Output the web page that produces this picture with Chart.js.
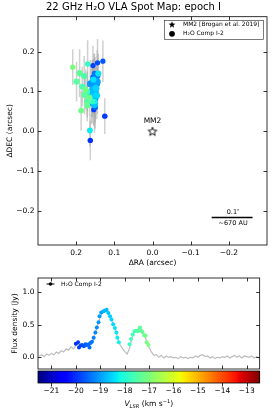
<!DOCTYPE html>
<html><head><meta charset="utf-8">
<script src="https://cdn.jsdelivr.net/npm/chart.js@4.4.0/dist/chart.umd.min.js"></script>
<style>
html,body{margin:0;padding:0;background:#fff;}
#wrap{position:relative;width:273px;height:413px;overflow:hidden;}
.box{position:absolute;left:0;width:273px;}
</style></head><body>
<div id="wrap">
<div class="box" style="top:0;height:270px"><canvas id="c1" width="273" height="270"></canvas></div>
<div class="box" style="top:270px;height:143px"><canvas id="c2" width="273" height="143"></canvas></div>
</div>
<script>
// ---------- DATA ----------
// maser spots: velocity (km/s), peak flux (Jy), RA/DEC offsets (arcsec), DEC uncertainty (arcsec)
const spotVel  = [-20.00,-19.91,-19.87,-19.80,-19.74,-19.67,-19.60,-19.54,-19.47,-19.40,-19.44,-19.34,
                  -19.27,-19.20,-19.14,-19.07,-19.03,-18.96,-18.87,-18.80,-18.74,-18.67,-18.60,-18.54,-18.47,-18.40,-18.34,-18.30,-18.24,
                  -17.80,-17.74,-17.67,-17.60,-17.54,-17.47,-17.40,-17.37,-17.33,-17.27,-17.20,-17.14,-17.10,-17.03];
const spotFlux = [0.21,0.23,0.15,0.18,0.19,0.17,0.20,0.19,0.20,0.22,0.15,0.24,
                  0.30,0.38,0.46,0.54,0.63,0.69,0.71,0.72,0.73,0.68,0.63,0.58,0.51,0.45,0.38,0.30,0.23,
                  0.20,0.28,0.35,0.40,0.41,0.40,0.43,0.46,0.41,0.39,0.34,0.33,0.23,0.19];
const spotRA   = [0.163,0.125,0.154,0.156,0.144,0.130,0.156,0.150,0.148,0.152,0.158,0.145,
                  0.144,0.157,0.150,0.163,0.154,0.145,0.158,0.150,0.153,0.152,0.160,0.148,0.146,0.155,0.142,0.164,0.151,
                  0.170,0.158,0.171,0.184,0.179,0.171,0.199,0.178,0.191,0.171,0.165,0.187,0.175,0.209];
const spotDEC  = [-0.023,0.038,0.054,0.165,0.172,0.176,0.136,0.060,0.128,0.145,0.070,0.118,
                  0.139,0.125,0.082,0.119,0.112,0.124,0.100,0.096,0.105,0.067,0.088,0.108,0.090,0.130,0.145,0.002,0.075,
                  0.169,0.075,0.100,0.112,0.139,0.075,0.125,0.092,0.146,0.065,0.085,0.052,0.105,0.161];
const spotDecErr=[0.050,0.045,0.040,0.050,0.060,0.052,0.040,0.030,0.040,0.050,0.035,0.040,
                  0.050,0.050,0.060,0.060,0.070,0.080,0.080,0.090,0.090,0.070,0.070,0.060,0.060,0.050,0.050,0.040,0.040,
                  0.060,0.040,0.050,0.050,0.050,0.040,0.050,0.050,0.060,0.040,0.045,0.050,0.050,0.045];
// reference source
const mm2RA = [0.0], mm2DEC = [0.0];
// scale bar (arcsec)
const scaleBarRA = [-0.155, -0.262], scaleBarDEC = [-0.217, -0.217];
// spectrum
const specVel = [-21.5,-21.4,-21.3,-21.2,-21.1,-21.0,-20.9,-20.8,-20.7,-20.6,-20.5,-20.4,-20.3,-20.2,-20.1,-20.0,
 -19.9,-19.8,-19.7,-19.6,-19.5,-19.4,-19.3,-19.2,-19.1,-19.0,-18.9,-18.8,-18.7,-18.6,-18.5,-18.4,-18.3,-18.2,-18.1,-18.0,
 -17.9,-17.8,-17.7,-17.6,-17.5,-17.4,-17.3,-17.2,-17.1,-17.0,-16.9,-16.8,-16.7,-16.6,-16.5,-16.4,-16.3,-16.2,-16.1,-16.0,
 -15.9,-15.8,-15.7,-15.6,-15.5,-15.4,-15.3,-15.2,-15.1,-15.0,-14.9,-14.8,-14.7,-14.6,-14.5,-14.4,-14.3,-14.2,-14.1,-14.0,
 -13.9,-13.8,-13.7,-13.6,-13.5,-13.4,-13.3,-13.2,-13.1,-13.0,-12.9,-12.8,-12.7,-12.6,-12.5];
const specFlux = [0.02,0.04,0.01,0.05,0.03,0.06,0.04,0.08,0.06,0.10,0.08,0.13,0.11,0.16,0.13,0.18,
 0.20,0.18,0.19,0.20,0.21,0.22,0.26,0.38,0.50,0.62,0.70,0.72,0.71,0.63,0.54,0.45,0.31,0.20,0.14,0.09,
 0.05,0.14,0.30,0.40,0.41,0.45,0.41,0.35,0.24,0.15,0.08,0.03,0.04,0.00,0.03,-0.01,0.02,0.00,0.01,-0.01,
 0.00,-0.02,0.01,-0.01,0.00,-0.02,0.00,-0.01,0.02,0.00,0.03,0.04,0.01,0.02,-0.01,0.01,-0.02,0.00,-0.01,0.01,
 0.00,0.02,-0.01,0.01,0.03,0.00,0.02,-0.01,0.02,0.01,0.00,0.02,-0.01,0.01,-0.01];
// ticks
const raTicks = [0.2, 0.1, 0.0, -0.1, -0.2];
const decTicks = [-0.2, -0.1, 0.0, 0.1, 0.2];
const velTicks = [-21, -20, -19, -18, -17, -16, -15, -14, -13];
const fluxTicks = [0.0, 0.5, 1.0];

// ---------- STYLE ----------
const FONT = 'DejaVu Sans';
Chart.defaults.font.family = FONT;
Chart.defaults.color = '#000';
const velMin = -21.55, velMax = -12.47;
function interp(p, t){ for(let i=1;i<p.length;i++){ if(t<=p[i][0]){const a=p[i-1],b=p[i];return a[1]+(b[1]-a[1])*(t-a[0])/(b[0]-a[0]);} } return p[p.length-1][1]; }
const JR=[[0,0],[0.35,0],[0.66,1],[0.89,1],[1,0.5]];
const JG=[[0,0],[0.125,0],[0.375,1],[0.64,1],[0.91,0],[1,0]];
const JB=[[0,0.5],[0.11,1],[0.34,1],[0.65,0],[1,0]];
function jet(t){ t=Math.min(1,Math.max(0,t)); return 'rgb('+Math.round(255*interp(JR,t))+','+Math.round(255*interp(JG,t))+','+Math.round(255*interp(JB,t))+')'; }
const colorOf = v => jet((v - velMin) / (velMax - velMin));
const fmt1 = v => (v < -1e-9 ? '\u2212' : '') + Math.abs(v).toFixed(1);
const fmt0 = v => (v < 0 ? '\u2212' : '') + Math.abs(v).toFixed(0);

function starPath(g, cx, cy, r){
  g.beginPath();
  for(let i=0;i<10;i++){ const rr = i%2 ? r*0.42 : r; const a = -Math.PI/2 + i*Math.PI/5; g.lineTo(cx+rr*Math.cos(a), cy+rr*Math.sin(a)); }
  g.closePath();
}
function starCanvas(r, filled){
  const s = Math.ceil(r*2+4); const c = document.createElement('canvas'); c.width=s; c.height=s;
  const g = c.getContext('2d'); starPath(g, s/2, s/2+0.5, r);
  if(filled){ g.fillStyle='#000'; g.fill(); } else { g.fillStyle='#fff'; g.fill(); g.strokeStyle='#000'; g.lineWidth=0.9; g.stroke(); }
  return c;
}

function frame(chart, len){
  const {ctx, chartArea:a, scales:{x,y}} = chart;
  ctx.save(); ctx.strokeStyle='#000'; ctx.lineWidth=0.8;
  ctx.strokeRect(a.left, a.top, a.right-a.left, a.bottom-a.top);
  ctx.beginPath();
  x.ticks.forEach(t=>{ const p=Math.round(x.getPixelForValue(t.value))+0.5; ctx.moveTo(p,a.bottom); ctx.lineTo(p,a.bottom-len); ctx.moveTo(p,a.top); ctx.lineTo(p,a.top+len); });
  y.ticks.forEach(t=>{ const p=Math.round(y.getPixelForValue(t.value))+0.5; ctx.moveTo(a.left,p); ctx.lineTo(a.left+len,p); ctx.moveTo(a.right,p); ctx.lineTo(a.right-len,p); });
  ctx.stroke(); ctx.restore();
}
const tickFont = {family: FONT, size: 7.5};
const titleFont = {family: FONT, size: 7.5};

// ---------- TOP CHART ----------
const topPlugin = {
  id: 'topPlugin',
  beforeDatasetsDraw(chart){
    const {ctx, chartArea:a, scales:{x,y}} = chart;
    ctx.save(); ctx.beginPath(); ctx.rect(a.left,a.top,a.right-a.left,a.bottom-a.top); ctx.clip();
    ctx.lineWidth = 1.5;
    spotRA.forEach((r,i)=>{
      const px = x.getPixelForValue(r);
      ctx.strokeStyle = 'rgba(170,170,170,0.55)';
      ctx.beginPath(); ctx.moveTo(px, y.getPixelForValue(spotDEC[i]-spotDecErr[i])); ctx.lineTo(px, y.getPixelForValue(spotDEC[i]+spotDecErr[i])); ctx.stroke();
    });
    ctx.restore();
  },
  afterDraw(chart){
    const {ctx, scales:{x,y}} = chart;
    frame(chart, 3.5);
    ctx.save();
    // MM2 label
    ctx.fillStyle='#000'; ctx.textAlign='center'; ctx.textBaseline='middle';
    ctx.font = '7.5px "'+FONT+'"';
    ctx.fillText('MM2', x.getPixelForValue(mm2RA[0]), y.getPixelForValue(mm2DEC[0]) - 10.5);
    // scale bar labels
    const sbx = x.getPixelForValue((scaleBarRA[0]+scaleBarRA[1])/2) + 1;
    const sby = y.getPixelForValue(scaleBarDEC[0]);
    ctx.font = '6.5px "'+FONT+'"';
    ctx.fillText('0.1\u2033', sbx, sby - 5.5);
    ctx.fillText('~670 AU', sbx, sby + 6);
    // legend
    const L=164, T=20, W=99, H=19;
    ctx.fillStyle='#fff'; ctx.fillRect(L,T,W,H);
    ctx.strokeStyle='#444'; ctx.lineWidth=0.7; ctx.strokeRect(L+0.5,T+0.5,W,H);
    ctx.fillStyle='#000';
    starPath(ctx, 172, 24.8, 3.6); ctx.fill();
    ctx.beginPath(); ctx.arc(172, 33.8, 2.9, 0, Math.PI*2); ctx.fill();
    ctx.font = '6px "'+FONT+'"'; ctx.textAlign='left';
    ctx.fillText('MM2 [Brogan et al. 2019]', 183, 24.8);
    ctx.fillText('H\u2082O Comp I-2', 183, 33.8);
    ctx.restore();
  }
};

new Chart(document.getElementById('c1'), {
  type: 'scatter',
  data: { datasets: [
    { label: 'H\u2082O Comp I-2', data: spotRA.map((r,i)=>({x:r, y:spotDEC[i]})),
      pointBackgroundColor: spotVel.map(colorOf), pointBorderWidth: 0,
      pointRadius: spotFlux.map(f => 2.3 + 1.9*f) },
    { label: 'MM2', data: mm2RA.map((r,i)=>({x:r, y:mm2DEC[i]})), pointStyle: starCanvas(4.6,false), pointRadius: 5 },
    { label: 'scale', data: scaleBarRA.map((r,i)=>({x:r, y:scaleBarDEC[i]})), showLine: true,
      borderColor: '#000', borderWidth: 1.6, pointRadius: 0 }
  ]},
  options: {
    responsive: false, animation: false, events: [],
    layout: { padding: { left: 0, right: 6, top: 0, bottom: 0 } },
    plugins: {
      legend: { display: false }, tooltip: { enabled: false },
      title: { display: true, text: '22 GHz H\u2082O VLA Spot Map: epoch I', color: '#000',
               font: { family: FONT, size: 10, weight: 'normal' }, padding: { top: 1.5, bottom: 3.2 } }
    },
    scales: {
      x: { type: 'linear', reverse: true, min: -0.3, max: 0.3,
           afterBuildTicks: s => { s.ticks = raTicks.map(v => ({value: v})); },
           afterFit: s => { s.height = 25; },
           grid: { display: false, drawTicks: false }, border: { display: false },
           ticks: { padding: 3.5, font: tickFont, color: '#000', callback: v => fmt1(v) },
           title: { display: true, text: '\u0394RA (arcsec)', font: titleFont, color: '#000', padding: { top: 0, bottom: 2.8 } } },
      y: { type: 'linear', min: -0.286, max: 0.288,
           afterBuildTicks: s => { s.ticks = decTicks.map(v => ({value: v})); },
           afterFit: s => { s.width = 38; },
           grid: { display: false, drawTicks: false }, border: { display: false },
           ticks: { padding: 3.5, font: tickFont, color: '#000', callback: v => fmt1(v) },
           title: { display: true, text: '\u0394DEC (arcsec)', font: titleFont, color: '#000', padding: { top: 5.5, bottom: 0 } } }
    }
  },
  plugins: [topPlugin]
});

// ---------- BOTTOM CHART ----------
const botPlugin = {
  id: 'botPlugin',
  afterDraw(chart){
    const {ctx, chartArea:a, scales:{x}} = chart;
    frame(chart, 3.5);
    ctx.save();
    // colorbar
    const cbTop = a.bottom + 2, cbH = 12;
    for(let px = Math.floor(a.left); px < a.right; px++){
      ctx.fillStyle = colorOf(x.getValueForPixel(px + 0.5));
      ctx.fillRect(px, cbTop, 1, cbH);
    }
    ctx.strokeStyle = '#000'; ctx.lineWidth = 0.8;
    ctx.strokeRect(a.left, cbTop, a.right - a.left, cbH);
    ctx.beginPath();
    x.ticks.forEach(t => { const p = Math.round(x.getPixelForValue(t.value)) + 0.5; ctx.moveTo(p, cbTop + cbH); ctx.lineTo(p, cbTop + cbH + 3.5); });
    ctx.stroke();
    // x label: V_LSR (km s^-1)
    ctx.fillStyle = '#000'; ctx.textBaseline = 'alphabetic'; ctx.textAlign = 'left';
    const parts = [
      {t:'V', f:'italic 7.5px "'+FONT+'"', dy:0},
      {t:'LSR', f:'italic 5.2px "'+FONT+'"', dy:1.6},
      {t:' (km s', f:'7.5px "'+FONT+'"', dy:0},
      {t:'\u22121', f:'5.2px "'+FONT+'"', dy:-3.2},
      {t:')', f:'7.5px "'+FONT+'"', dy:0}
    ];
    let tw = 0; parts.forEach(p => { ctx.font = p.f; p.w = ctx.measureText(p.t).width; tw += p.w; });
    let cx = (a.left + a.right)/2 - tw/2; const base = 136;
    parts.forEach(p => { ctx.font = p.f; ctx.fillText(p.t, cx, base + p.dy); cx += p.w; });
    // legend
    ctx.strokeStyle = '#000'; ctx.lineWidth = 1;
    ctx.beginPath(); ctx.moveTo(46.5, 14); ctx.lineTo(54.5, 14); ctx.stroke();
    ctx.beginPath(); ctx.arc(50.5, 14, 1.8, 0, Math.PI*2); ctx.fill();
    ctx.font = '6px "'+FONT+'"'; ctx.textBaseline = 'middle';
    ctx.fillText('H\u2082O Comp I-2', 61, 14);
    ctx.restore();
  }
};

new Chart(document.getElementById('c2'), {
  type: 'scatter',
  data: { datasets: [
    { label: 'spots', data: spotVel.map((v,i)=>({x:v, y:spotFlux[i]})),
      pointBackgroundColor: spotVel.map(colorOf), pointBorderWidth: 0, pointRadius: 2 },
    { label: 'spectrum', data: specVel.map((v,i)=>({x:v, y:specFlux[i]})), showLine: true,
      borderColor: '#bdbdbd', borderWidth: 1.2, pointRadius: 0 }
  ]},
  options: {
    responsive: false, animation: false, events: [],
    layout: { padding: { left: 0, right: 6, top: 5, bottom: 0 } },
    plugins: { legend: { display: false }, tooltip: { enabled: false } },
    scales: {
      x: { type: 'linear', min: velMin, max: velMax,
           afterBuildTicks: s => { s.ticks = velTicks.map(v => ({value: v})); },
           afterFit: s => { s.height = 44; },
           grid: { display: false, drawTicks: false }, border: { display: false },
           ticks: { padding: 18, font: tickFont, color: '#000', callback: v => fmt0(v) } },
      y: { type: 'linear', min: -0.18, max: 1.22,
           afterBuildTicks: s => { s.ticks = fluxTicks.map(v => ({value: v})); },
           afterFit: s => { s.width = 38; },
           grid: { display: false, drawTicks: false }, border: { display: false },
           ticks: { padding: 3.5, font: tickFont, color: '#000', callback: v => fmt1(v) },
           title: { display: true, text: 'Flux density (Jy)', font: titleFont, color: '#000', padding: { top: 11, bottom: 0 } } }
    }
  },
  plugins: [botPlugin]
});
</script>
</body></html>
